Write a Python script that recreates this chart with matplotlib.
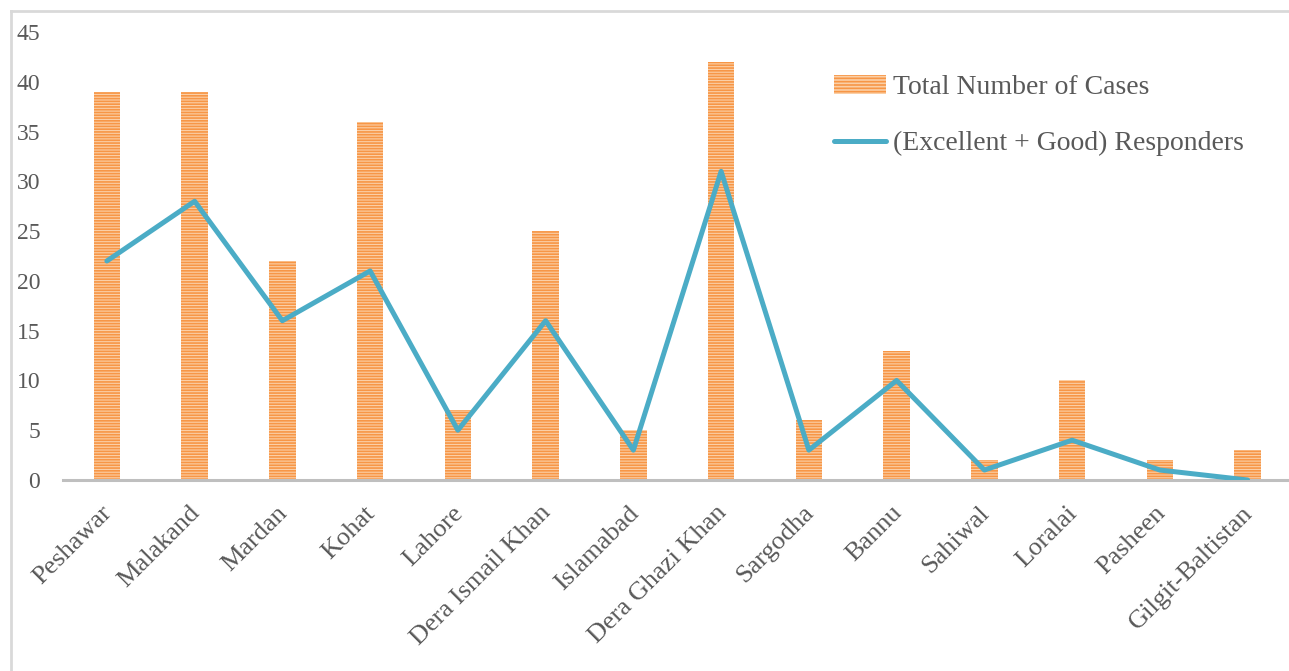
import matplotlib.pyplot as plt
from matplotlib.lines import Line2D
from matplotlib.patches import Patch
from matplotlib.transforms import ScaledTranslation

regions = ["Peshawar", "Malakand", "Mardan", "Kohat", "Lahore", "Dera Ismail Khan",
           "Islamabad", "Dera Ghazi Khan", "Sargodha", "Bannu", "Sahiwal", "Loralai",
           "Pasheen", "Gilgit-Baltistan"]
total_cases = [39, 39, 22, 36, 7, 25, 5, 42, 6, 13, 2, 10, 2, 3]
good_responders = [22, 28, 16, 21, 5, 16, 3, 31, 3, 10, 1, 4, 1, 0]
y_ticks = [0, 5, 10, 15, 20, 25, 30, 35, 40, 45]

ORANGE = "#F79646"
ORANGE_FILL = "#FBCFA6"
BLUE = "#4BACC6"
TEXT = "#595959"

plt.rcParams["hatch.linewidth"] = 1.2
plt.rcParams["font.family"] = ["Liberation Serif", "DejaVu Serif"]

W, H = 1289, 671
fig = plt.figure(figsize=(W / 100, H / 100), dpi=100)

# outer chart frame (right and bottom fall outside the canvas)
frame = dict(color="#D9D9D9", linewidth=2, transform=fig.transFigure)
fig.add_artist(Line2D([10.5 / W, 1.0], [1 - 10.5 / H, 1 - 10.5 / H], **frame))
fig.add_artist(Line2D([10.5 / W, 10.5 / W], [0, 1 - 10.5 / H], **frame))

left, right = 63, 63 + 14 * 87.75
bottom, top = 480, 32
ax = fig.add_axes([left / W, (H - bottom) / H, (right - left) / W, (bottom - top) / H])

x = range(len(regions))
ax.bar(x, total_cases, width=0.3, color=ORANGE_FILL, edgecolor=ORANGE,
       hatch="------", linewidth=0, zorder=2)
ax.plot(x, good_responders, color=BLUE, linewidth=3.6, solid_capstyle="round",
        solid_joinstyle="round", zorder=3)

ax.set_xlim(-0.5, len(regions) - 0.5)
ax.set_ylim(0, 45)
ax.set_yticks(y_ticks)
ax.set_xticks(list(x))
ax.tick_params(axis="x", length=0, pad=10)
ax.tick_params(axis="y", length=0, pad=16.5, labelsize=17, labelcolor=TEXT)
ax.set_xticklabels(regions, rotation=45, ha="right", va="top",
                   rotation_mode="anchor", fontsize=19, color=TEXT)
# nudge the slanted labels so their ends sit just right of each tick
shift = ScaledTranslation(-6 / 100, -8 / 100, fig.dpi_scale_trans)
for lbl in ax.get_xticklabels():
    lbl.set_transform(lbl.get_transform() + shift)

for side in ["top", "right", "left"]:
    ax.spines[side].set_visible(False)
ax.spines["bottom"].set_color("#BFBFBF")
ax.spines["bottom"].set_linewidth(2.2)

handles = [
    Patch(facecolor=ORANGE_FILL, edgecolor=ORANGE, hatch="-----", linewidth=0),
    Line2D([0], [0], color=BLUE, linewidth=3.6, solid_capstyle="round"),
]
fig.legend(handles, ["Total Number of Cases", "(Excellent + Good) Responders"],
           loc="upper left", bbox_to_anchor=(809 / W, 1 - 50 / H), frameon=False,
           fontsize=20, labelcolor=TEXT, handlelength=1.87, handleheight=0.7,
           handletextpad=0.25, labelspacing=1.1)

fig.savefig("out.png", dpi=100)
